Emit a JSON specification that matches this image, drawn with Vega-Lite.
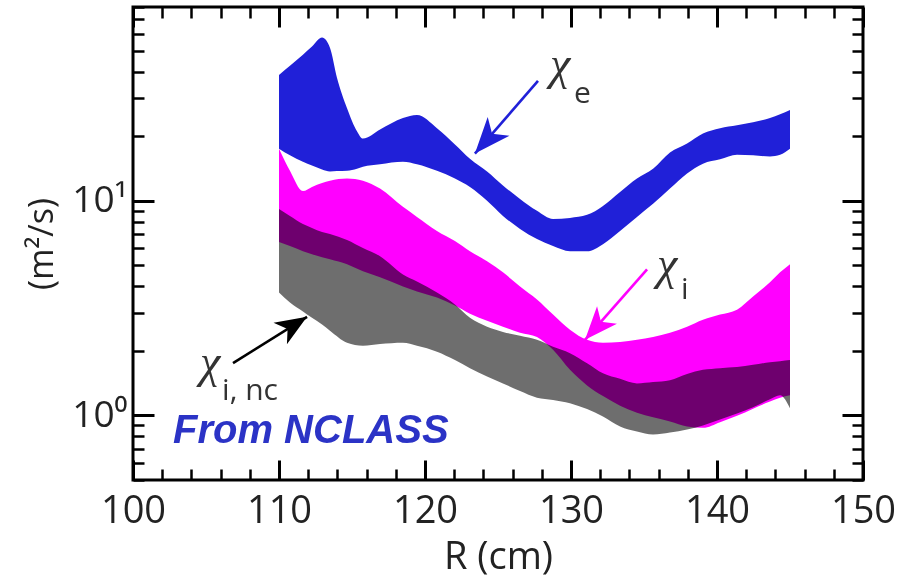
{
  "$schema": "https://vega.github.io/schema/vega-lite/v6.json",
  "width": 730,
  "height": 473,
  "autosize": "none",
  "padding": {"left": 133, "top": 7, "right": 35, "bottom": 98},
  "background": "white",
  "config": {
    "view": {"stroke": "#000", "strokeWidth": 3},
    "axis": {"grid": false, "domain": false}
  },
  "datasets": {
    "bands": [
      {"s":"e","R":110,"lo":17.5,"hi":38.6},
      {"s":"e","R":110.75,"lo":16.3,"hi":42.6},
      {"s":"e","R":111.64,"lo":15.2,"hi":47.9},
      {"s":"e","R":112.26,"lo":14.6,"hi":52.3},
      {"s":"e","R":112.95,"lo":14.0,"hi":57.6},
      {"s":"e","R":113.49,"lo":13.7,"hi":51.7},
      {"s":"e","R":113.97,"lo":13.75,"hi":37.4},
      {"s":"e","R":114.66,"lo":13.8,"hi":27.0},
      {"s":"e","R":115.34,"lo":14.1,"hi":21.1},
      {"s":"e","R":115.75,"lo":14.4,"hi":19.5},
      {"s":"e","R":116.92,"lo":14.8,"hi":21.5},
      {"s":"e","R":118.49,"lo":15.2,"hi":24.3},
      {"s":"e","R":119.45,"lo":14.8,"hi":25.1},
      {"s":"e","R":120.82,"lo":13.8,"hi":21.8},
      {"s":"e","R":122.05,"lo":12.7,"hi":18.3},
      {"s":"e","R":123.08,"lo":11.6,"hi":15.7},
      {"s":"e","R":124.25,"lo":10.0,"hi":13.7},
      {"s":"e","R":125.34,"lo":8.5,"hi":11.8},
      {"s":"e","R":126.51,"lo":7.39,"hi":10.2},
      {"s":"e","R":127.67,"lo":6.63,"hi":8.98},
      {"s":"e","R":128.77,"lo":6.15,"hi":8.23},
      {"s":"e","R":129.93,"lo":5.82,"hi":8.32},
      {"s":"e","R":131.1,"lo":5.82,"hi":8.6},
      {"s":"e","R":132.19,"lo":6.28,"hi":9.47},
      {"s":"e","R":133.36,"lo":7.23,"hi":11.0},
      {"s":"e","R":134.52,"lo":8.41,"hi":12.7},
      {"s":"e","R":135.62,"lo":9.68,"hi":14.1},
      {"s":"e","R":136.78,"lo":11.4,"hi":16.8},
      {"s":"e","R":137.95,"lo":13.4,"hi":18.5},
      {"s":"e","R":139.04,"lo":14.9,"hi":20.6},
      {"s":"e","R":140.21,"lo":15.6,"hi":21.8},
      {"s":"e","R":141.37,"lo":16.4,"hi":22.5},
      {"s":"e","R":142.47,"lo":16.3,"hi":23.2},
      {"s":"e","R":143.63,"lo":16.1,"hi":24.3},
      {"s":"e","R":144.32,"lo":16.4,"hi":25.3},
      {"s":"e","R":145,"lo":17.5,"hi":26.5},

      {"s":"i","R":110,"lo":6.42,"hi":17.5},
      {"s":"i","R":110.75,"lo":6.15,"hi":13.8},
      {"s":"i","R":111.64,"lo":5.82,"hi":11.1},
      {"s":"i","R":112.26,"lo":5.64,"hi":11.6},
      {"s":"i","R":112.95,"lo":5.46,"hi":12.1},
      {"s":"i","R":113.49,"lo":5.34,"hi":12.4},
      {"s":"i","R":114.66,"lo":5.06,"hi":12.7},
      {"s":"i","R":115.75,"lo":4.69,"hi":12.4},
      {"s":"i","R":116.92,"lo":4.4,"hi":11.4},
      {"s":"i","R":118.49,"lo":3.99,"hi":9.37},
      {"s":"i","R":119.45,"lo":3.78,"hi":8.41},
      {"s":"i","R":120.82,"lo":3.54,"hi":7.23},
      {"s":"i","R":122.05,"lo":3.25,"hi":6.49},
      {"s":"i","R":123.08,"lo":2.98,"hi":5.82},
      {"s":"i","R":124.25,"lo":2.76,"hi":5.23},
      {"s":"i","R":125.34,"lo":2.59,"hi":4.64},
      {"s":"i","R":126.51,"lo":2.43,"hi":3.99},
      {"s":"i","R":127.67,"lo":2.32,"hi":3.47},
      {"s":"i","R":128.77,"lo":2.02,"hi":2.95},
      {"s":"i","R":129.93,"lo":1.63,"hi":2.51},
      {"s":"i","R":131.1,"lo":1.38,"hi":2.25},
      {"s":"i","R":132.19,"lo":1.23,"hi":2.18},
      {"s":"i","R":133.36,"lo":1.11,"hi":2.2},
      {"s":"i","R":134.52,"lo":1.03,"hi":2.25},
      {"s":"i","R":135.62,"lo":0.98,"hi":2.32},
      {"s":"i","R":136.78,"lo":0.937,"hi":2.43},
      {"s":"i","R":137.95,"lo":0.888,"hi":2.59},
      {"s":"i","R":139.04,"lo":0.875,"hi":2.79},
      {"s":"i","R":140.21,"lo":0.93,"hi":2.95},
      {"s":"i","R":141.37,"lo":0.995,"hi":3.11},
      {"s":"i","R":142.47,"lo":1.075,"hi":3.58},
      {"s":"i","R":143.63,"lo":1.16,"hi":4.17},
      {"s":"i","R":144.32,"lo":1.21,"hi":4.64},
      {"s":"i","R":145,"lo":1.24,"hi":5.06},

      {"s":"nc","R":110,"lo":3.74,"hi":9.17},
      {"s":"nc","R":110.75,"lo":3.36,"hi":8.5},
      {"s":"nc","R":111.64,"lo":3.05,"hi":7.8},
      {"s":"nc","R":112.26,"lo":2.85,"hi":7.47},
      {"s":"nc","R":112.95,"lo":2.65,"hi":7.15},
      {"s":"nc","R":113.49,"lo":2.48,"hi":7.0},
      {"s":"nc","R":114.66,"lo":2.18,"hi":6.56},
      {"s":"nc","R":115.75,"lo":2.11,"hi":6.02},
      {"s":"nc","R":116.92,"lo":2.15,"hi":5.52},
      {"s":"nc","R":118.49,"lo":2.18,"hi":4.54},
      {"s":"nc","R":119.45,"lo":2.11,"hi":4.21},
      {"s":"nc","R":120.82,"lo":1.98,"hi":3.74},
      {"s":"nc","R":122.05,"lo":1.81,"hi":3.29},
      {"s":"nc","R":123.08,"lo":1.66,"hi":2.85},
      {"s":"nc","R":124.25,"lo":1.52,"hi":2.59},
      {"s":"nc","R":125.34,"lo":1.41,"hi":2.45},
      {"s":"nc","R":126.51,"lo":1.3,"hi":2.35},
      {"s":"nc","R":127.67,"lo":1.21,"hi":2.25},
      {"s":"nc","R":128.77,"lo":1.18,"hi":2.09},
      {"s":"nc","R":129.93,"lo":1.14,"hi":1.95},
      {"s":"nc","R":131.1,"lo":1.07,"hi":1.75},
      {"s":"nc","R":132.19,"lo":0.989,"hi":1.57},
      {"s":"nc","R":133.36,"lo":0.888,"hi":1.48},
      {"s":"nc","R":134.52,"lo":0.841,"hi":1.41},
      {"s":"nc","R":135.62,"lo":0.814,"hi":1.43},
      {"s":"nc","R":136.78,"lo":0.832,"hi":1.46},
      {"s":"nc","R":137.95,"lo":0.86,"hi":1.56},
      {"s":"nc","R":139.04,"lo":0.898,"hi":1.63},
      {"s":"nc","R":140.21,"lo":0.958,"hi":1.66},
      {"s":"nc","R":141.37,"lo":1.02,"hi":1.68},
      {"s":"nc","R":142.47,"lo":1.09,"hi":1.72},
      {"s":"nc","R":143.63,"lo":1.19,"hi":1.77},
      {"s":"nc","R":144.32,"lo":1.24,"hi":1.79},
      {"s":"nc","R":145,"lo":1.08,"hi":1.81}
    ],
    "arrows": [
      {"name":"e","R":127.74,"v":36.2,"R2":123.42,"v2":16.6},
      {"name":"i","R":135.21,"v":4.79,"R2":130.96,"v2":2.25},
      {"name":"nc","R":106.85,"v":1.754,"R2":111.92,"v2":2.88}
    ],
    "chi": [
      {"R":128.56,"v":37.0,"t":"χ"},
      {"R":135.89,"v":4.3,"t":"χ"},
      {"R":104.59,"v":1.508,"t":"χ"}
    ],
    "subs": [
      {"R":130.21,"v":28.5,"t":"e"},
      {"R":137.53,"v":3.47,"t":"i"},
      {"R":106.1,"v":1.176,"t":"i, nc"}
    ],
    "note": [
      {"R":102.74,"v":0.747,"t":"From NCLASS"}
    ]
  },
  "resolve": {"axis": {"x": "independent", "y": "independent"}},
  "layer": [
    {
      "data": {"name": "bands"},
      "transform": [{"filter": "datum.s === 'nc'"}],
      "mark": {"type": "area", "color": "#6e6e6e", "interpolate": "monotone", "blend": "multiply"},
      "encoding": {
        "x": {"field": "R", "type": "quantitative",
              "scale": {"domain": [100, 150], "nice": false, "zero": false},
              "axis": {"orient": "bottom", "values": [100,110,120,130,140,150], "ticks": false,
                       "labelFont": "Open Sans", "labelFontSize": 38, "labelColor": "#222",
                       "labelPadding": 12, "labelFlush": false, "labelOverlap": false,
                       "title": "R (cm)", "titleFont": "Open Sans", "titleFontSize": 38,
                       "titleFontWeight": "normal", "titleColor": "#222", "titlePadding": 8}},
        "y": {"field": "lo", "type": "quantitative",
              "scale": {"type": "log", "domain": [0.5, 80], "nice": false},
              "axis": {"orient": "left", "values": [1, 10], "ticks": false,
                       "labelExpr": "datum.value === 1 ? '10⁰' : '10¹'",
                       "labelFont": "Open Sans", "labelFontSize": 37, "labelColor": "#222",
                       "labelPadding": 6, "labelFlush": false, "labelOverlap": false,
                       "title": "(m²/s)", "titleFont": "Open Sans", "titleFontSize": 34,
                       "titleFontWeight": "normal", "titleColor": "#222", "titlePadding": 12}},
        "y2": {"field": "hi"}
      }
    },
    {
      "data": {"name": "bands"},
      "transform": [{"filter": "datum.s === 'i'"}],
      "mark": {"type": "area", "color": "#ff00ff", "interpolate": "monotone", "blend": "multiply"},
      "encoding": {
        "x": {"field": "R", "type": "quantitative",
              "scale": {"domain": [100, 150], "nice": false, "zero": false},
              "axis": {"orient": "bottom", "labels": false, "title": null,
                       "values": [100,102,104,106,108,110,112,114,116,118,120,122,124,126,128,130,132,134,136,138,140,142,144,146,148,150],
                       "tickColor": "#000",
                       "tickSize": {"condition": {"test": "datum.value % 10 === 0", "value": -20}, "value": -11},
                       "tickWidth": {"condition": {"test": "datum.value % 10 === 0", "value": 3}, "value": 2.5}}},
        "y": {"field": "lo", "type": "quantitative",
              "scale": {"type": "log", "domain": [0.5, 80], "nice": false},
              "axis": {"orient": "left", "labels": false, "title": null,
                       "values": [0.5,0.6,0.7,0.8,0.9,1,2,3,4,5,6,7,8,9,10,20,30,40,50,60,70,80],
                       "tickColor": "#000",
                       "tickSize": {"condition": {"test": "datum.value === 1 || datum.value === 10", "value": -21}, "value": -11},
                       "tickWidth": {"condition": {"test": "datum.value === 1 || datum.value === 10", "value": 3}, "value": 2.5}}},
        "y2": {"field": "hi"}
      }
    },
    {
      "data": {"name": "bands"},
      "transform": [{"filter": "datum.s === 'e'"}],
      "mark": {"type": "area", "color": "#2020d8", "interpolate": "monotone"},
      "encoding": {
        "x": {"field": "R", "type": "quantitative",
              "scale": {"domain": [100, 150], "nice": false, "zero": false},
              "axis": {"orient": "top", "labels": false, "title": null,
                       "values": [100,102,104,106,108,110,112,114,116,118,120,122,124,126,128,130,132,134,136,138,140,142,144,146,148,150],
                       "tickColor": "#000",
                       "tickSize": {"condition": {"test": "datum.value % 10 === 0", "value": -20}, "value": -11},
                       "tickWidth": {"condition": {"test": "datum.value % 10 === 0", "value": 3}, "value": 2.5}}},
        "y": {"field": "lo", "type": "quantitative",
              "scale": {"type": "log", "domain": [0.5, 80], "nice": false},
              "axis": {"orient": "right", "labels": false, "title": null,
                       "values": [0.5,0.6,0.7,0.8,0.9,1,2,3,4,5,6,7,8,9,10,20,30,40,50,60,70,80],
                       "tickColor": "#000",
                       "tickSize": {"condition": {"test": "datum.value === 1 || datum.value === 10", "value": -21}, "value": -11},
                       "tickWidth": {"condition": {"test": "datum.value === 1 || datum.value === 10", "value": 3}, "value": 2.5}}},
        "y2": {"field": "hi"}
      }
    },
    {
      "data": {"name": "arrows"},
      "mark": {"type": "rule", "strokeWidth": 2.6},
      "encoding": {
        "x": {"field": "R", "type": "quantitative", "axis": null},
        "y": {"field": "v", "type": "quantitative", "axis": null},
        "x2": {"field": "R2"},
        "y2": {"field": "v2"},
        "color": {"field": "name", "type": "nominal", "legend": null,
                  "scale": {"domain": ["e", "i", "nc"], "range": ["#2020d8", "#ff00ff", "#000000"]}}
      }
    },
    {
      "data": {"name": "arrows"},
      "transform": [{"filter": "datum.name === 'e'"}],
      "mark": {"type": "point", "shape": "M0,0 L0.8,2 L0,1.45 L-0.8,2 Z", "filled": true, "opacity": 1,
               "color": "#2020d8", "size": 1300, "angle": 221},
      "encoding": {
        "x": {"field": "R2", "type": "quantitative", "axis": null},
        "y": {"field": "v2", "type": "quantitative", "axis": null}
      }
    },
    {
      "data": {"name": "arrows"},
      "transform": [{"filter": "datum.name === 'i'"}],
      "mark": {"type": "point", "shape": "M0,0 L0.8,2 L0,1.45 L-0.8,2 Z", "filled": true, "opacity": 1,
               "color": "#ff00ff", "size": 1100, "angle": 221.5},
      "encoding": {
        "x": {"field": "R2", "type": "quantitative", "axis": null},
        "y": {"field": "v2", "type": "quantitative", "axis": null}
      }
    },
    {
      "data": {"name": "arrows"},
      "transform": [{"filter": "datum.name === 'nc'"}],
      "mark": {"type": "point", "shape": "M0,0 L0.8,2 L0,1.45 L-0.8,2 Z", "filled": true, "opacity": 1,
               "color": "#000000", "size": 1000, "angle": 58},
      "encoding": {
        "x": {"field": "R2", "type": "quantitative", "axis": null},
        "y": {"field": "v2", "type": "quantitative", "axis": null}
      }
    },
    {
      "data": {"name": "chi"},
      "mark": {"type": "text", "font": "Liberation Serif", "fontStyle": "italic", "fontSize": 46, "color": "#333", "align": "left", "baseline": "alphabetic"},
      "encoding": {
        "x": {"field": "R", "type": "quantitative", "axis": null},
        "y": {"field": "v", "type": "quantitative", "axis": null},
        "text": {"field": "t"}
      }
    },
    {
      "data": {"name": "subs"},
      "mark": {"type": "text", "font": "Open Sans", "fontSize": 30, "color": "#333", "align": "left", "baseline": "alphabetic"},
      "encoding": {
        "x": {"field": "R", "type": "quantitative", "axis": null},
        "y": {"field": "v", "type": "quantitative", "axis": null},
        "text": {"field": "t"}
      }
    },
    {
      "data": {"name": "note"},
      "mark": {"type": "text", "font": "Liberation Sans", "fontSize": 40, "fontWeight": "bold", "fontStyle": "italic",
               "color": "#2b33c6", "align": "left", "baseline": "alphabetic"},
      "encoding": {
        "x": {"field": "R", "type": "quantitative", "axis": null},
        "y": {"field": "v", "type": "quantitative", "axis": null},
        "text": {"field": "t"}
      }
    }
  ]
}
